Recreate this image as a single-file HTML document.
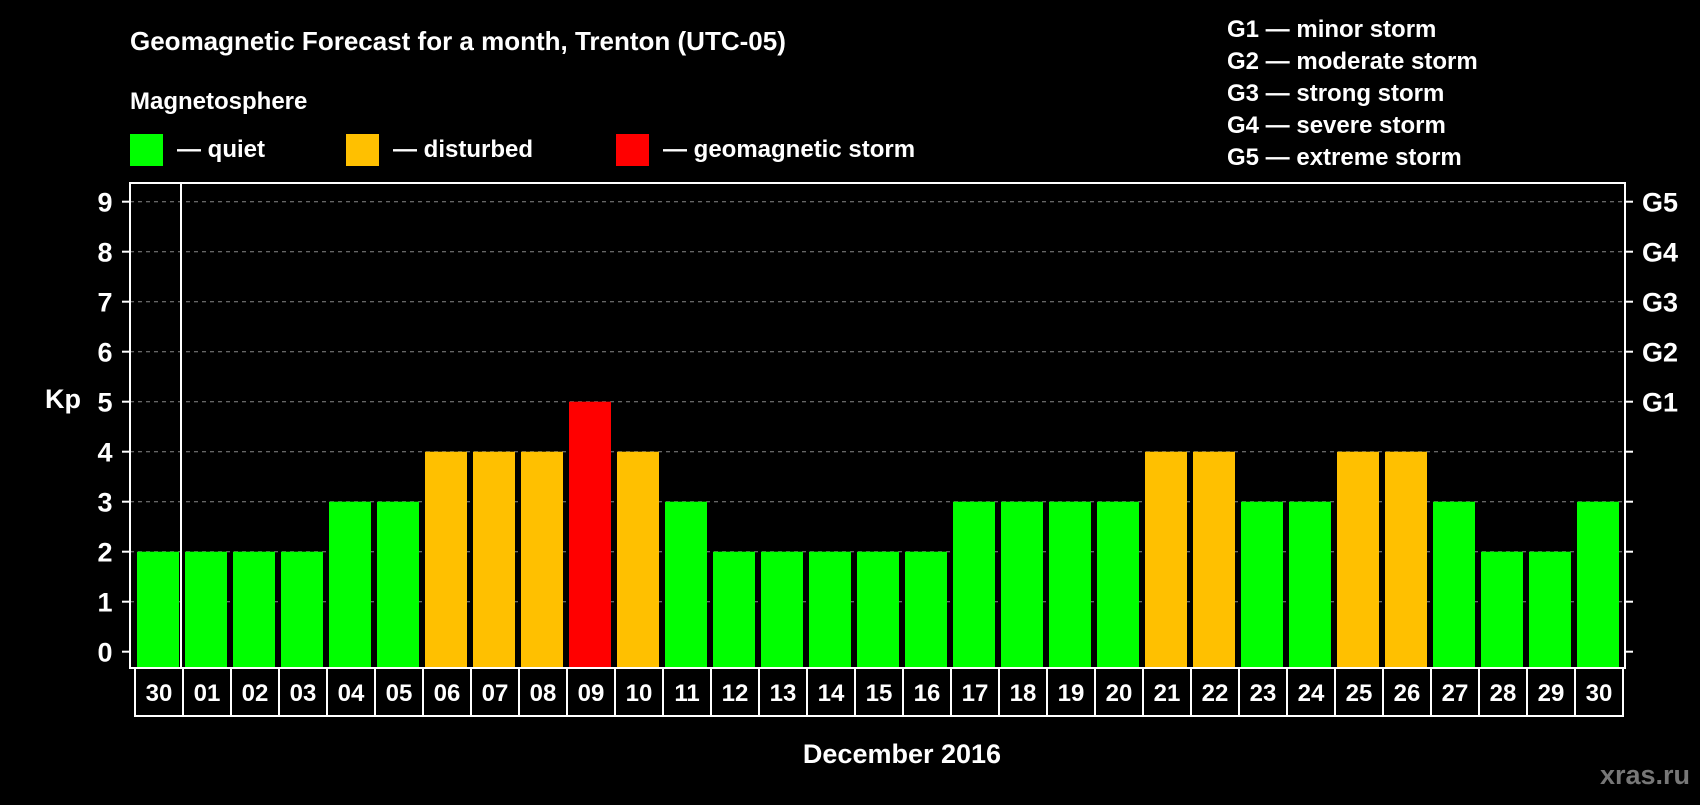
<!DOCTYPE html>
<html><head><meta charset="utf-8"><style>
body{margin:0;background:#000;width:1700px;height:800px;overflow:hidden;font-family:"Liberation Sans",sans-serif;font-weight:bold;color:#fff}
</style></head><body>
<svg width="1700" height="800" xmlns="http://www.w3.org/2000/svg" font-family="Liberation Sans, sans-serif" font-weight="bold">
<rect width="1700" height="800" fill="#000"/>
<text x="130" y="50" font-size="26" fill="#fff">Geomagnetic Forecast for a month, Trenton (UTC-05)</text>
<text x="130" y="109" font-size="24" fill="#fff">Magnetosphere</text>
<g>
<rect x="130" y="134" width="33" height="32" fill="#00ff00"/>
<text x="177" y="157" font-size="24" fill="#fff">— quiet</text>
<rect x="346" y="134" width="33" height="32" fill="#ffc000"/>
<text x="393" y="157" font-size="24" fill="#fff">— disturbed</text>
<rect x="616" y="134" width="33" height="32" fill="#ff0000"/>
<text x="663" y="157" font-size="24" fill="#fff">— geomagnetic storm</text>
</g>
<g font-size="24" fill="#fff">
<text x="1227" y="37">G1 — minor storm</text>
<text x="1227" y="69">G2 — moderate storm</text>
<text x="1227" y="101">G3 — strong storm</text>
<text x="1227" y="133">G4 — severe storm</text>
<text x="1227" y="165">G5 — extreme storm</text>
</g>
<text x="63" y="408" font-size="27" fill="#fff" text-anchor="middle">Kp</text>
<text x="902" y="763" font-size="27" fill="#fff" text-anchor="middle">December 2016</text>
<text x="1690" y="784" font-size="27" fill="#777" text-anchor="end">xras.ru</text>
<g id="plot"></g>
</svg>
<script>
const days=["30","01","02","03","04","05","06","07","08","09","10","11","12","13","14","15","16","17","18","19","20","21","22","23","24","25","26","27","28","29","30"];
const kpValues=[2,2,2,2,3,3,4,4,4,5,4,3,2,2,2,2,2,3,3,3,3,4,4,3,3,4,4,3,2,2,3];
const yTicks=[0,1,2,3,4,5,6,7,8,9];
const gLabels=["G1","G2","G3","G4","G5"];
const NS="http://www.w3.org/2000/svg";
const g=document.getElementById('plot');
const L=130,R=1625,T=183,B=668,X0=135,STEP=48;
const y=v=>651.7-50*v;
const x=i=>X0+STEP*i;
function mk(t,a,p){const e=document.createElementNS(NS,t);for(const k in a)e.setAttribute(k,a[k]);(p||g).appendChild(e);return e;}
yTicks.forEach(v=>{
 if(v>0){const gl=mk('line',{x1:L,x2:R,y1:y(v),y2:y(v),stroke:'#888','stroke-dasharray':'4,4','stroke-width':1});
 
 }
 mk('line',{x1:L-8,x2:L,y1:y(v),y2:y(v),stroke:'#fff','stroke-width':2});
 mk('line',{x1:R,x2:R+8,y1:y(v),y2:y(v),stroke:'#fff','stroke-width':2});
 const t=mk('text',{x:105,y:y(v)+10,'font-size':27,fill:'#fff','text-anchor':'middle'});t.textContent=v;
 
 
});
gLabels.forEach((s,i)=>{const t=mk('text',{x:1642,y:y(5+i)+10,'font-size':27,fill:'#fff'});t.textContent=s;
 
 });
kpValues.forEach((v,i)=>{
 const c=v>=5?'#ff0000':v>=4?'#ffc000':'#00ff00';
 const r=mk('rect',{x:x(i)+2,y:y(v),width:42,height:B-y(v),fill:c});
 
 
 const cell=mk('rect',{x:x(i),y:B,width:STEP,height:48,fill:'none',stroke:'#fff','stroke-width':2});
 
 
 const t=mk('text',{x:x(i)+STEP/2,y:B+33,'font-size':24,fill:'#fff','text-anchor':'middle'});t.textContent=days[i];
 
 
});
const fr=mk('rect',{x:L,y:T,width:R-L,height:B-T,fill:'none',stroke:'#fff','stroke-width':2});


const sep=mk('line',{x1:x(1)-2,x2:x(1)-2,y1:T,y2:B,stroke:'#fff','stroke-width':2});


</script>
</body></html>
